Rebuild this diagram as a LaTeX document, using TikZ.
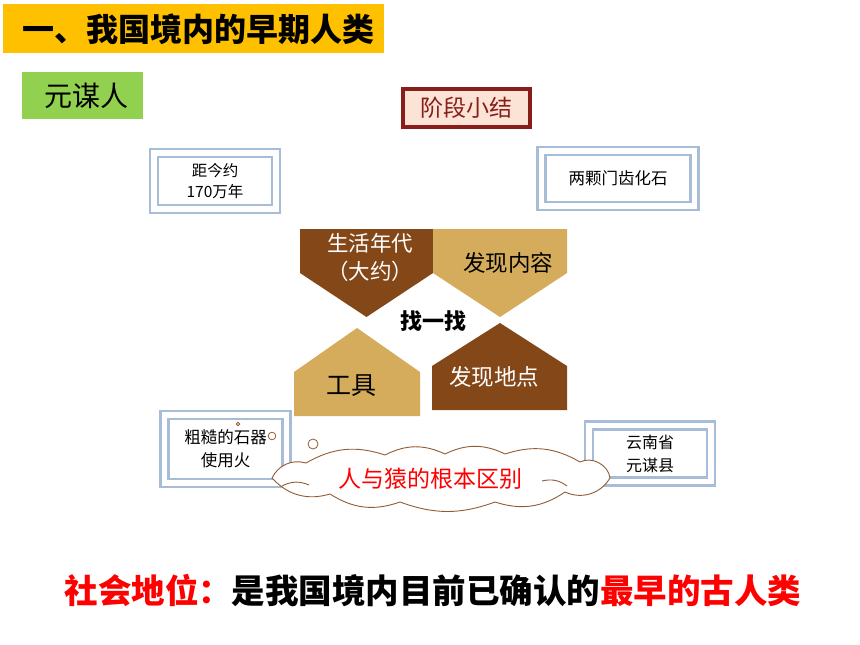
\documentclass[tikz,border=0pt]{standalone}
\usepackage{fontspec}
\usepackage{tikz}
\usetikzlibrary{positioning}
\setmainfont{Noto Sans CJK SC}
\newfontfamily\cjk{Noto Sans CJK SC}
\definecolor{titlebar}{RGB}{255,192,0}
\definecolor{leafgreen}{RGB}{146,208,80}
\definecolor{frameblue}{RGB}{167,188,214}
\definecolor{darkbrown}{RGB}{132,71,24}
\definecolor{lighttan}{RGB}{213,172,92}
\definecolor{summaryred}{RGB}{137,29,26}
\definecolor{summaryfill}{RGB}{251,228,214}
\definecolor{cloudline}{RGB}{145,92,52}
\tikzstyle{framebox}=[draw=frameblue, line width=2.4pt, double=white, double distance=5.6pt, align=center, inner sep=0pt]
\tikzstyle{label}=[align=center, inner sep=0pt]
\tikzstyle{puff}=[cloudline, line width=0.9pt]

\begin{document}
\begin{tikzpicture}[x=1pt, y=-1pt, every node/.style={font=\cjk}]
    \useasboundingbox (0,0) rectangle (860,645);
    \fill[white] (0,0) rectangle (860,645);

    % title bar and tag
    \fill[titlebar] (3,4) rectangle (384,53);
    \node[label, font=\cjk\bfseries\fontsize{32}{32}\selectfont] (title) at (199,29) {一、我国境内的早期人类};
    \fill[leafgreen] (22,72) rectangle (143,119);
    \node[label, font=\cjk\fontsize{28}{28}\selectfont] (tag) at (86,96) {元谋人};
    \node[draw=summaryred, fill=summaryfill, line width=4pt, minimum width=127pt, minimum height=38pt,
          text=summaryred, font=\cjk\fontsize{23}{23}\selectfont] (summary) at (466.5,108) {阶段小结};

    % answer boxes
    \node[framebox, minimum width=122pt, minimum height=56pt, font=\cjk\fontsize{15.5}{21}\selectfont] (age) at (215,181) {距今约\\170万年};
    \node[framebox, minimum width=153pt, minimum height=55pt, font=\cjk\fontsize{16.5}{20}\selectfont] (find) at (618,178.5) {两颗门齿化石};
    \node[framebox, minimum width=122pt, minimum height=68pt, font=\cjk\fontsize{16.5}{23}\selectfont] (tool) at (225.5,449) {粗糙的石器\\使用火};
    \node[framebox, minimum width=122pt, minimum height=56pt, font=\cjk\fontsize{16}{23}\selectfont] (place) at (650,453.5) {云南省\\元谋县};

    % four pentagons
    \fill[darkbrown] (300,229) -- (433,229) -- (433,273) -- (366.5,317) -- (300,273) -- cycle;
    \fill[lighttan] (433,229) -- (567,229) -- (567,273) -- (500,317) -- (433,273) -- cycle;
    \fill[lighttan] (294,372) -- (357,328) -- (420,372) -- (420,416) -- (294,416) -- cycle;
    \fill[darkbrown] (432,366) -- (500,323) -- (567,366) -- (567,410) -- (432,410) -- cycle;
    \node[label, text=white, font=\cjk\fontsize{21.5}{28}\selectfont] (era) at (370,257) {生活年代\\（大约）};
    \node[label, font=\cjk\fontsize{22.5}{22}\selectfont] (content) at (508,263) {发现内容};
    \node[label, font=\cjk\bfseries\fontsize{22}{22}\selectfont] (search) at (433,321) {找一找};
    \node[label, font=\cjk\fontsize{25}{25}\selectfont] (tools) at (351,386) {工具};
    \node[label, text=white, font=\cjk\fontsize{22.5}{22}\selectfont] (site) at (494,377) {发现地点};

    % thought cloud
    \draw[puff, fill=white] (272,478) to[bend left=40] (306,463) to[bend left=24] (385,455)
      to[bend left=26] (445,454) to[bend left=26] (505,454) to[bend left=24] (580,462)
      to[bend left=55] (610,478) to[bend left=42] (565,492) to[bend left=26] (495,502)
      to[bend left=20] (400,502) to[bend left=26] (330,494) to[bend left=32] cycle;
    \draw[puff] (282,486) to[bend left=25] (309,485);
    \draw[puff] (542,481) to[bend left=25] (567,486);
    \node[label, text=red, font=\cjk\fontsize{23}{23}\selectfont] (diff) at (430,479) {人与猿的根本区别};
    \draw[puff, fill=white, line width=0.8pt] (238,424) circle (1.8);
    \draw[puff, fill=white, line width=0.8pt] (272,436) circle (3.8);
    \draw[puff, fill=white, line width=0.8pt] (313,444) circle (5);

    % status line
    \node[label, font=\cjk\bfseries\fontsize{33.5}{33}\selectfont] (status) at (433,591)
      {\textcolor{red}{社会地位：}是我国境内目前已确认的\textcolor{red}{最早的古人类}};
\end{tikzpicture}
\end{document}
